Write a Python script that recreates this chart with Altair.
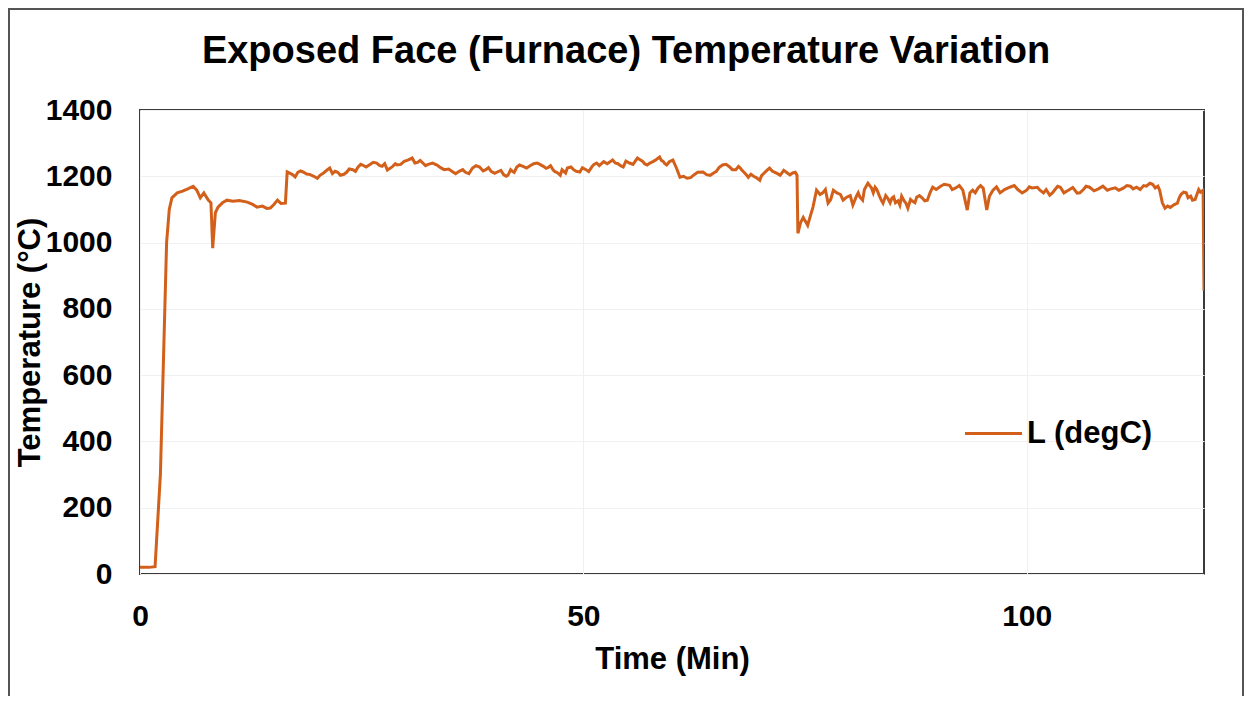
import altair as alt
import pandas as pd

# Time (min) - main readings
time_min = [
    0, 1.0, 1.7, 2.3, 2.7, 3.0, 3.3, 3.6, 4.2, 4.8, 5.4, 6.0, 6.4, 6.8, 7.2, 7.7, 8.0, 8.2, 8.5, 8.8,
    9.3, 9.8, 10.5, 11.2, 12.1, 12.7, 13.2, 13.8, 14.3, 14.7, 15.1, 15.5, 15.9, 16.4, 16.6,
    17.2, 17.8, 18.4, 19.2, 20.0, 20.7, 21.4, 22.0, 22.6, 23.3, 24.0, 24.6, 25.1, 25.9, 26.7, 27.3,
    27.9, 28.5, 29.0, 29.8, 30.7, 31.3, 31.9, 32.5, 33.5, 34.3, 35.3, 36.0, 36.7, 37.5, 38.3, 39.0,
    39.6, 40.3, 41.0, 41.5, 42.0, 42.5, 43.2, 44.0, 44.8, 45.5, 46.0, 46.6, 47.0, 47.4, 47.8, 48.2,
    48.9, 49.6, 50.3, 51.0, 51.5, 52.3, 53.3, 53.9, 54.5, 55.2, 56.1, 56.7, 57.2, 57.9, 58.6, 59.0,
    59.4, 60.1, 60.5, 60.9, 61.7, 62.5, 63.5, 64.3, 65.0, 65.7, 66.5, 67.2, 67.7, 68.2, 68.6, 69.2,
    69.9, 70.4, 71.0, 71.6, 72.2, 72.9, 73.6, 74.1, 74.2, 74.5, 74.8, 75.3, 75.6, 75.9, 76.3, 77.0,
    77.6, 78.2, 79.0, 79.7, 80.4, 80.8, 81.2, 81.7, 82.1, 82.5, 82.9, 83.4, 83.8, 84.3, 84.8, 85.2,
    85.7, 86.2, 86.6, 87.1, 87.6, 88.2, 88.8, 89.4, 90.3, 91.3, 92.0, 92.8, 93.3, 93.9, 94.5, 95.1,
    95.5, 96.2, 97.0, 98.1, 99.0, 100.0, 100.6, 101.2, 101.9, 102.6, 103.2, 103.8, 104.7, 105.7,
    106.4, 107.1, 108.1, 109.1, 110.0, 110.9, 111.7, 112.4, 113.2, 113.9, 114.5, 115.0, 115.3,
    115.6, 116.2, 117.0, 117.4, 117.7, 118.2, 118.7, 119.2, 119.6, 119.9, 120.0,
]

# Furnace temperature (degC) - main readings
temp_c = [
    20, 20, 22, 300, 700, 1000, 1100, 1135, 1150, 1155, 1162, 1170, 1158, 1135, 1150, 1128, 1120, 983, 1090, 1107,
    1120, 1128, 1125, 1127, 1122, 1115, 1107, 1110, 1103, 1104, 1115, 1128, 1118, 1119, 1213,
    1205, 1212, 1213, 1205, 1194, 1210, 1225, 1215, 1203, 1212, 1220, 1228, 1234, 1235, 1240, 1230,
    1219, 1230, 1234, 1245, 1255, 1242, 1240, 1236, 1234, 1220, 1213, 1215, 1212, 1225, 1228, 1220,
    1215, 1213, 1205, 1203, 1215, 1228, 1230, 1232, 1240, 1230, 1226, 1219, 1212, 1203, 1215, 1225,
    1220, 1213, 1220, 1230, 1240, 1244, 1249, 1238, 1228, 1240, 1255, 1245, 1234, 1245, 1258, 1245,
    1234, 1249, 1225, 1197, 1194, 1205, 1213, 1203, 1215, 1234, 1228, 1220, 1225, 1210, 1197, 1200,
    1188, 1210, 1225, 1212, 1203, 1212, 1210, 1203, 1028, 1060, 1076, 1052, 1080, 1107, 1158, 1150,
    1119, 1158, 1145, 1137, 1113, 1140, 1137, 1160, 1179, 1165, 1167, 1140, 1119, 1135, 1134, 1120,
    1113, 1125, 1104, 1125, 1137, 1135, 1128, 1167, 1170, 1173, 1165, 1158, 1098, 1158, 1164, 1164,
    1098, 1158, 1150, 1167, 1160, 1158, 1165, 1167, 1150, 1143, 1160, 1167, 1158, 1149,
    1160, 1167, 1162, 1158, 1165, 1164, 1170, 1167, 1172, 1179, 1165, 1158, 1120,
    1104, 1106, 1119, 1145, 1152, 1135, 1128, 1145, 1152, 1158, 855,
]

# Intermediate readings (min) - fine fluctuations
time_fine = [
    17.5, 18.1, 18.8, 19.6, 20.3, 21.1, 21.7, 22.3, 23.0, 23.6, 24.3, 24.9, 25.5, 26.3, 27.0, 27.6,
    28.2, 28.8, 29.4, 30.2, 31.0, 31.6, 32.2, 33.0, 33.9, 34.8, 35.6, 36.4, 37.1, 37.9, 38.7, 39.3,
    40.0, 40.7, 41.3, 41.8, 42.2, 42.8, 43.6, 44.4, 45.1, 45.8, 46.3, 46.8, 47.2, 47.6, 48.0, 48.6,
    49.2, 49.9, 50.6, 51.2, 51.8, 52.7, 53.6, 54.2, 54.8, 55.6, 56.4, 56.9, 57.5, 58.2, 58.8, 59.2,
    59.7, 61.3, 62.1, 62.9, 63.9, 64.7, 65.3, 66.1, 66.8, 67.5, 67.9, 68.4, 68.9, 69.5, 70.1, 70.7,
    71.3, 71.9, 72.6, 73.3, 73.9, 76.7, 77.3, 77.9, 78.6, 79.3, 80.1, 81.0, 81.5, 81.9, 82.3, 82.7,
    83.1, 83.6, 84.1, 84.6, 85.0, 85.5, 85.9, 86.4, 86.9, 87.4, 87.9, 88.5, 89.1, 89.8, 90.7, 91.6,
    92.4, 93.6, 94.2, 94.8, 95.8, 96.6, 97.5, 98.6, 99.5, 100.3, 101.5, 102.2, 102.9, 103.5, 104.2,
    105.2, 106.0, 106.7, 107.6, 108.6, 109.5, 110.4, 111.3, 112.0, 112.8, 113.5, 114.2, 114.8,
    115.9, 116.6, 117.2, 118.0, 118.5, 119.0, 119.4,
]

temp_fine = [
    1198, 1216, 1207, 1200, 1203, 1219, 1208, 1212, 1206, 1222, 1215, 1236, 1228, 1242, 1233, 1238,
    1224, 1238, 1236, 1249, 1240, 1248, 1232, 1240, 1226, 1222, 1208, 1220, 1208, 1232, 1216, 1226,
    1209, 1218, 1200, 1220, 1212, 1234, 1225, 1238, 1236, 1224, 1232, 1214, 1208, 1220, 1210, 1228,
    1215, 1226, 1214, 1236, 1232, 1238, 1240, 1232, 1246, 1236, 1250, 1238, 1240, 1250, 1248, 1238,
    1244, 1200, 1196, 1212, 1205, 1210, 1226, 1236, 1220, 1230, 1218, 1204, 1206, 1196, 1202, 1218,
    1216, 1208, 1218, 1204, 1212, 1145, 1160, 1130, 1150, 1128, 1142, 1150, 1128, 1170, 1172, 1150,
    1160, 1128, 1142, 1120, 1138, 1126, 1140, 1118, 1130, 1120, 1142, 1126, 1150, 1160, 1176, 1160,
    1172, 1150, 1150, 1172, 1140, 1168, 1160, 1172, 1150, 1168, 1158, 1160, 1150, 1170, 1150,
    1166, 1150, 1170, 1156, 1170, 1162, 1158, 1172, 1162, 1160, 1170, 1176, 1170,
    1110, 1114, 1135, 1150, 1140, 1130, 1160,
]

series_name = ["L (degC)"]
x_ticks = [0, 50, 100]
y_ticks = [0, 200, 400, 600, 800, 1000, 1200, 1400]
chart_title = ["Exposed Face (Furnace) Temperature Variation"]

df = pd.DataFrame({
    "time": time_min + time_fine,
    "temp": temp_c + temp_fine,
})
df["series"] = series_name[0]
df = df.sort_values("time").reset_index(drop=True)

FONT = "Liberation Sans"
W, H = 1064, 464

line = alt.Chart(df).mark_line(strokeWidth=3, clip=True).encode(
    x=alt.X(
        "time:Q",
        scale=alt.Scale(domain=[0, 120], nice=False),
        axis=alt.Axis(
            values=x_ticks, format="d", title="Time (Min)", labelPadding=27,
            labelFlush=False, titleY=94, titleBaseline="alphabetic",
        ),
    ),
    y=alt.Y(
        "temp:Q",
        scale=alt.Scale(domain=[0, 1400], nice=False),
        axis=alt.Axis(
            values=y_ticks, format="d", title="Temperature (°C)", labelPadding=28,
            labelFlush=False,
            titleX=-101, titleY=232, titleAngle=270, titleBaseline="alphabetic",
            titleAlign="center",
        ),
    ),
    color=alt.Color(
        "series:N",
        scale=alt.Scale(domain=series_name, range=["#D2601A"]),
        legend=alt.Legend(
            title=None, orient="none", legendX=823, legendY=293,
            symbolType="stroke", symbolSize=3250, symbolStrokeWidth=3,
            labelFontSize=31, labelFont=FONT, labelFontWeight="bold",
            labelColor="#000000", labelOffset=3, padding=0,
        ),
    ),
)

border = alt.Chart(pd.DataFrame({"b": [0]})).mark_rect(
    fill="transparent", stroke="#555555", strokeWidth=2, clip=False
).encode(
    x=alt.value(-131), x2=alt.value(1103), y=alt.value(-101), y2=alt.value(640)
)

title_mark = alt.Chart(pd.DataFrame({"t": chart_title})).mark_text(
    font=FONT, fontSize=38, fontWeight="bold", color="#000000",
    align="center", baseline="alphabetic", clip=False,
).encode(
    text="t:N", x=alt.value(486), y=alt.value(-47)
)

chart = alt.layer(border, line, title_mark).properties(
    width=W,
    height=H,
    autosize=alt.AutoSizeParams(type="none"),
    padding={"left": 132, "top": 102, "right": 40, "bottom": 122},
    background="white",
).configure_view(
    stroke="#3a3a3a", strokeWidth=2
).configure_axis(
    domain=False, ticks=False, grid=True, gridColor="#f0f0f0", gridWidth=1,
    labelFont=FONT, labelFontSize=30, labelFontWeight="bold", labelColor="#000000",
    titleFont=FONT, titleFontSize=31, titleFontWeight="bold", titleColor="#000000",
)

chart.save("out.html", embed_options={"renderer": "svg", "actions": False})
